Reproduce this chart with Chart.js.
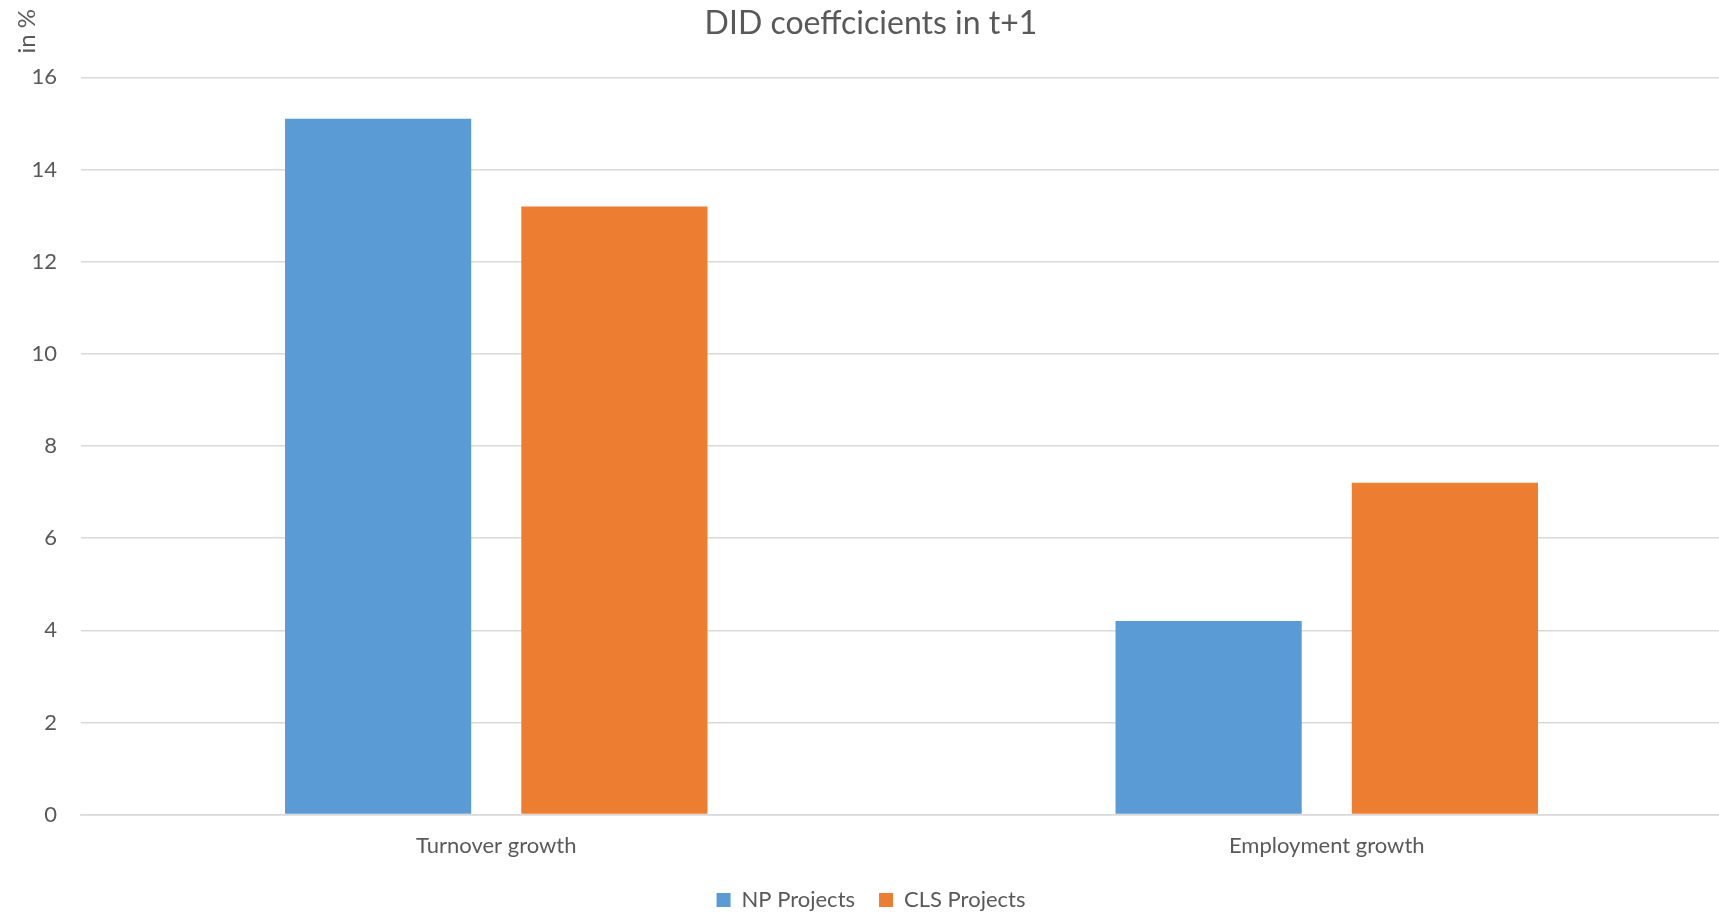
<!DOCTYPE html>
<html>
<head>
<meta charset="utf-8">
<title>DID coefficients</title>
<script src="https://cdn.jsdelivr.net/npm/chart.js@4/dist/chart.umd.min.js"></script>
<style>
  html, body { margin: 0; padding: 0; background: #fff; overflow: hidden; }
  #wrap { width: 1745px; height: 913px; }
</style>
</head>
<body>
<div id="wrap"><canvas id="didChart"></canvas></div>
<script>
const categories = ['Turnover growth', 'Employment growth'];
const npProjects = [15.1, 4.2];
const clsProjects = [13.2, 7.2];
const seriesNames = ['NP Projects', 'CLS Projects'];

const textColor = '#595959';
const gridColor = '#d9d9d9';
const fontFamily = 'Lato, "Open Sans", sans-serif';

// unit label sits above the value axis, rotated
const unitLabel = {
  id: 'unitLabel',
  afterDraw(chart) {
    const ctx = chart.ctx;
    ctx.save();
    ctx.translate(27, 9);
    ctx.rotate(-Math.PI / 2);
    ctx.font = '24px ' + fontFamily;
    ctx.fillStyle = textColor;
    ctx.textAlign = 'right';
    ctx.textBaseline = 'middle';
    ctx.fillText('in %', 0, 0);
    ctx.restore();
  }
};

new Chart(document.getElementById('didChart').getContext('2d'), {
  type: 'bar',
  data: {
    labels: categories,
    datasets: [
      { label: seriesNames[0], data: npProjects, backgroundColor: '#5b9bd5' },
      { label: seriesNames[1], data: clsProjects, backgroundColor: '#ed7d31' }
    ]
  },
  options: {
    responsive: true,
    maintainAspectRatio: false,
    animation: false,
    categoryPercentage: 0.569,
    barPercentage: 0.788,
    layout: { padding: { left: 0, right: 3, top: 0, bottom: -8 } },
    plugins: {
      title: {
        display: true,
        text: 'DID coeffcicients in t+1',
        color: textColor,
        font: { family: fontFamily, size: 32, weight: 'normal' },
        padding: { top: 4, bottom: 35 }
      },
      legend: {
        position: 'bottom',
        labels: {
          color: textColor,
          font: { family: fontFamily, size: 22 },
          boxWidth: 14,
          boxHeight: 14,
          padding: 24
        }
      },
      tooltip: { enabled: false }
    },
    scales: {
      x: {
        // let the category labels use part of the gap above the legend
        afterFit(scale) { scale.height -= 12; },
        grid: { display: false, drawTicks: false },
        border: { display: true, color: gridColor, width: 1.5 },
        ticks: { color: textColor, font: { family: fontFamily, size: 22 }, padding: 18 }
      },
      y: {
        min: 0,
        max: 16,
        afterFit(scale) { scale.width = 81; },
        grid: { color: gridColor, lineWidth: 1.5, drawTicks: false },
        border: { display: false },
        ticks: { stepSize: 2, color: textColor, font: { family: fontFamily, size: 22 }, padding: 24 }
      }
    }
  },
  plugins: [unitLabel]
});
</script>
</body>
</html>
